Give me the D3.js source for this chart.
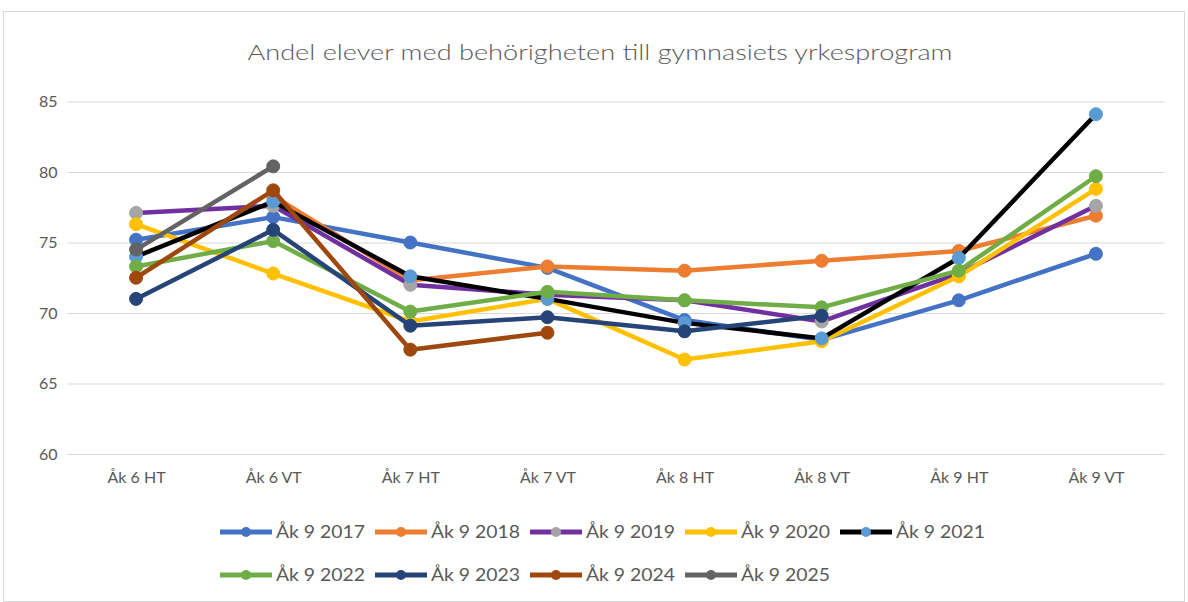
<!DOCTYPE html>
<html>
<head>
<meta charset="utf-8">
<script src="https://cdnjs.cloudflare.com/ajax/libs/d3/7.8.5/d3.min.js"></script>
<style>
  html, body { margin: 0; padding: 0; background: #ffffff; }
  svg { display: block; }
</style>
</head>
<body>
<svg id="chart" width="1188" height="602"></svg>
<script>
const title = "Andel elever med behörigheten till gymnasiets yrkesprogram";
const categories = ["Åk 6 HT", "Åk 6 VT", "Åk 7 HT", "Åk 7 VT", "Åk 8 HT", "Åk 8 VT", "Åk 9 HT", "Åk 9 VT"];
const yTicks = [60, 65, 70, 75, 80, 85];
const seriesNames = ["Åk 9 2017", "Åk 9 2018", "Åk 9 2019", "Åk 9 2020", "Åk 9 2021", "Åk 9 2022", "Åk 9 2023", "Åk 9 2024", "Åk 9 2025"];
const v2017 = [75.2, 76.8, 75.0, 73.2, 69.5, 68.1, 70.9, 74.2];
const v2018 = [null, 78.3, 72.3, 73.3, 73.0, 73.7, 74.4, 76.9];
const v2019 = [77.1, 77.6, 72.0, 71.3, 70.9, 69.4, 72.8, 77.6];
const v2020 = [76.3, 72.8, 69.4, 71.0, 66.7, 68.0, 72.6, 78.8];
const v2021 = [74.0, 77.9, 72.6, 71.0, 69.3, 68.2, 73.9, 84.1];
const v2022 = [73.3, 75.1, 70.1, 71.5, 70.9, 70.4, 73.0, 79.7];
const v2023 = [71.0, 75.9, 69.1, 69.7, 68.7, 69.8, null, null];
const v2024 = [72.5, 78.7, 67.4, 68.6, null, null, null, null];
const v2025 = [74.5, 80.4, null, null, null, null, null, null];
const lineColors = ["#4472C4", "#ED7D31", "#7030A0", "#FFC000", "#000000", "#70AD47", "#264478", "#9E480E", "#636363"];
const markerColors = ["#4472C4", "#ED7D31", "#A5A5A5", "#FFC000", "#5B9BD5", "#70AD47", "#264478", "#9E480E", "#636363"];

const seriesValues = [v2017, v2018, v2019, v2020, v2021, v2022, v2023, v2024, v2025];
const series = seriesNames.map((name, i) => ({
  name, values: seriesValues[i], line: lineColors[i], marker: markerColors[i]
}));

const svg = d3.select("#chart");
const font = "Lato, 'Open Sans', sans-serif";
const textColor = "#595959";

// outer chart border
svg.append("rect").attr("x", 3.5).attr("y", 11.5).attr("width", 1181).attr("height", 590)
  .attr("fill", "#fff").attr("stroke", "#d9d9d9").attr("stroke-width", 1);

const plot = { left: 67.5, right: 1164.5, top: 101.5, bottom: 454 };

const x = d3.scalePoint().domain(categories).range([plot.left, plot.right]).padding(0.5);
const y = d3.scaleLinear().domain([60, 85]).range([plot.bottom, plot.top]);

// title
svg.append("text").attr("x", 600).attr("y", 60).attr("text-anchor", "middle")
  .attr("font-family", font).attr("font-size", 22).attr("font-weight", 300).attr("fill", textColor)
  .attr("textLength", 705).attr("lengthAdjust", "spacingAndGlyphs")
  .text(title);

// gridlines + y axis
const yAxis = d3.axisLeft(y).tickValues(yTicks).tickSize(-(plot.right - plot.left)).tickPadding(10);
const gy = svg.append("g").attr("transform", `translate(${plot.left},0)`).call(yAxis);
gy.select(".domain").remove();
gy.selectAll(".tick line").attr("stroke", "#d9d9d9").attr("stroke-width", 1);
gy.selectAll(".tick text").attr("font-family", font).attr("font-size", 16).attr("fill", textColor);

// x axis
const xAxis = d3.axisBottom(x).tickSize(0).tickPadding(18);
const gx = svg.append("g").attr("transform", `translate(0,${plot.bottom})`).call(xAxis);
gx.select(".domain").remove();
gx.selectAll(".tick text").attr("font-family", font).attr("font-size", 16).attr("fill", textColor);

// lines
const line = d3.line().defined(d => d != null)
  .x((d, i) => x(categories[i])).y(d => y(d));

series.forEach(s => {
  const g = svg.append("g");
  g.append("path").datum(s.values).attr("d", line)
    .attr("fill", "none").attr("stroke", s.line).attr("stroke-width", 4.5)
    .attr("stroke-linejoin", "round").attr("stroke-linecap", "round");
  g.selectAll("circle").data(s.values.map((v, i) => ({ v, c: categories[i] })).filter(d => d.v != null))
    .enter().append("circle")
    .attr("cx", d => x(d.c)).attr("cy", d => y(d.v)).attr("r", 6.5)
    .attr("fill", s.marker).attr("stroke", s.marker).attr("stroke-width", 1);
});

// legend
const legendRows = [seriesNames.slice(0, 5), seriesNames.slice(5)];
const legendX0 = 220, itemW = 155, rowY = [532, 575];
legendRows.forEach((row, r) => {
  row.forEach((name, j) => {
    const s = series.find(d => d.name === name);
    const lx = legendX0 + j * itemW;
    const g = svg.append("g").attr("transform", `translate(${lx},${rowY[r]})`);
    g.append("line").attr("x1", 0).attr("x2", 52).attr("y1", 0).attr("y2", 0)
      .attr("stroke", s.line).attr("stroke-width", 5);
    g.append("circle").attr("cx", 26).attr("cy", 0).attr("r", 5).attr("fill", s.marker);
    g.append("text").attr("x", 56).attr("y", 0).attr("dy", "0.36em")
      .attr("font-family", font).attr("font-size", 18).attr("fill", textColor)
      .attr("textLength", 89).attr("lengthAdjust", "spacingAndGlyphs")
      .text(name);
  });
});
</script>
</body>
</html>
